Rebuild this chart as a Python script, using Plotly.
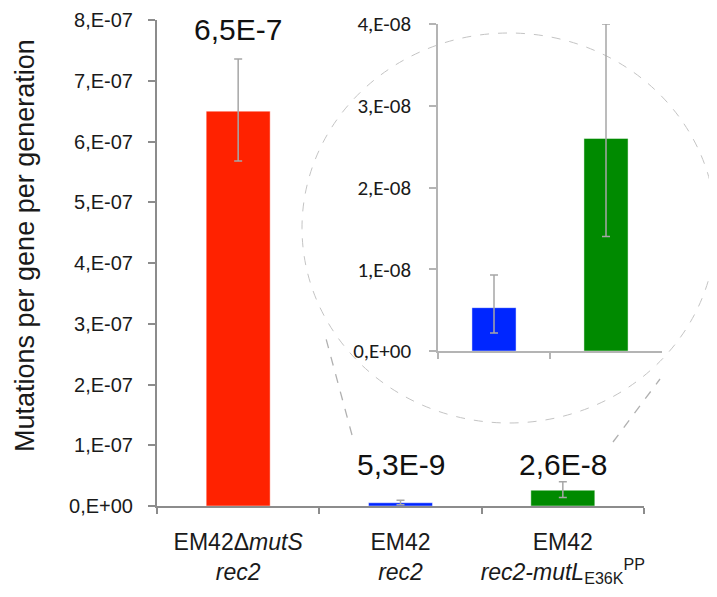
import plotly.graph_objects as go

# ---- data ----
strains = ["EM42ΔmutS rec2", "EM42 rec2", "EM42 rec2-mutL E36K PP"]
tick_labels = [
    "EM42Δ<i>mutS</i><br><i>rec2</i>",
    "EM42<br><i>rec2</i>",
    "EM42<br><i>rec2-mutL</i><sub>E36K</sub><sup>PP</sup>",
]
rates = [6.5e-7, 5.3e-9, 2.6e-8]
err_plus = [0.86e-7, 0.40e-8, 1.4e-8]
err_minus = [0.82e-7, 0.31e-8, 1.2e-8]
value_labels = ["6,5E-7", "5,3E-9", "2,6E-8"]
colors = ["#ff2200", "#0026ff", "#008a00"]

main_ticks = [0, 1e-7, 2e-7, 3e-7, 4e-7, 5e-7, 6e-7, 7e-7, 8e-7]
main_tick_text = ["0,E+00", "1,E-07", "2,E-07", "3,E-07", "4,E-07",
                  "5,E-07", "6,E-07", "7,E-07", "8,E-07"]
inset_ticks = [0, 1e-8, 2e-8, 3e-8, 4e-8]
inset_tick_text = ["0,E+00", "1,E-08", "2,E-08", "3,E-08", "4,E-08"]
y_title = "Mutations per gene per generation"

SANS = "Liberation Sans, Arial, sans-serif"
CALIBRI = "Carlito, Calibri, Lato, sans-serif"
err_col = "#a6a6a6"

# layout geometry (page has an 8px body margin)
W, H = 717, 597
L, T, R, B = 149, 12, 0, 99
PW, PH = W - L - R, H - T - B


def px(sx):  # screen x -> paper x
    return (sx - 8 - L) / PW


def py(sy):  # screen y -> paper y
    return (H - B - (sy - 8)) / PH


fig = go.Figure()

fig.add_trace(go.Bar(
    x=strains, y=rates,
    marker=dict(color=colors, line=dict(color="rgba(255,255,255,0.45)", width=1)),
    error_y=dict(type="data", symmetric=False, array=err_plus, arrayminus=err_minus,
                 color=err_col, thickness=1.5, width=4),
    xaxis="x", yaxis="y", showlegend=False,
))

fig.add_trace(go.Bar(
    x=strains[1:], y=rates[1:],
    marker=dict(color=colors[1:], line=dict(color="rgba(255,255,255,0.45)", width=1)),
    error_y=dict(type="data", symmetric=False, array=err_plus[1:], arrayminus=err_minus[1:],
                 color=err_col, thickness=1.5, width=4),
    xaxis="x2", yaxis="y2", showlegend=False,
))

label_y = [7.84e-7, 0.675e-7, 0.675e-7]
for s, t, yy in zip(strains, value_labels, label_y):
    fig.add_annotation(x=s, y=yy, xref="x", yref="y", text=t, showarrow=False,
                       font=dict(family=SANS, size=30, color="#111111"),
                       yanchor="middle")

fig.add_annotation(x=px(25), y=py(246), xref="paper", yref="paper", text=y_title,
                   textangle=-90, showarrow=False, xanchor="center", yanchor="middle",
                   font=dict(family=SANS, size=27, color="#1a1a1a"))

# decorative zoom ellipse & connector lines
fig.add_shape(type="circle", xref="paper", yref="paper",
              x0=px(302), x1=px(716), y0=py(423), y1=py(33),
              line=dict(color="#c4c4c4", width=1, dash="dash"), layer="below")
fig.add_shape(type="line", xref="paper", yref="paper",
              x0=px(352), y0=py(435), x1=px(325), y1=py(335),
              line=dict(color="#b0b0b0", width=1.3, dash="dash"))
fig.add_shape(type="line", xref="paper", yref="paper",
              x0=px(613), y0=py(442), x1=px(660), y1=py(379),
              line=dict(color="#b0b0b0", width=1.3, dash="dash"))

fig.update_layout(
    width=W, height=H,
    margin=dict(l=L, r=R, t=T, b=B, autoexpand=False),
    paper_bgcolor="white", plot_bgcolor="rgba(0,0,0,0)",
    bargap=0.606,
    font=dict(family=SANS, color="#1a1a1a"),
    xaxis=dict(domain=[0, px(644)], type="category", automargin=False,
               tickvals=strains, ticktext=tick_labels, tickangle=0,
               tickfont=dict(family=SANS, size=23, color="#1a1a1a"),
               showline=True, linecolor="#8c8c8c", linewidth=2,
               ticks="outside", ticklen=6, tickcolor="#8c8c8c", tickwidth=2,
               tickson="boundaries", ticklabelstandoff=14,
               showgrid=False, zeroline=False, range=[-0.5, 2.5], fixedrange=True),
    yaxis=dict(domain=[0, 1], range=[0, 8e-7], automargin=False,
               tickvals=main_ticks, ticktext=main_tick_text,
               tickfont=dict(family=SANS, size=20, color="#1a1a1a"),
               showline=True, linecolor="#8c8c8c", linewidth=2,
               ticks="outside", ticklen=7, tickcolor="#8c8c8c", tickwidth=2,
               ticklabelstandoff=11,
               showgrid=False, zeroline=False),
    xaxis2=dict(domain=[px(438), px(662)], anchor="y2", type="category",
                tickvals=strains[1:], showticklabels=False, automargin=False,
                showline=True, linecolor="#b4b4b4", linewidth=1.5,
                ticks="outside", ticklen=6, tickcolor="#b4b4b4", tickwidth=1.5,
                tickson="boundaries", showgrid=False, zeroline=False,
                range=[-0.5, 1.5]),
    yaxis2=dict(domain=[py(351), py(24)], anchor="x2", range=[0, 4e-8], automargin=False,
                tickvals=inset_ticks, ticktext=inset_tick_text,
                tickfont=dict(family=CALIBRI, size=21, color="#1a1a1a"),
                showline=True, linecolor="#b4b4b4", linewidth=1.5,
                ticks="outside", ticklen=7, tickcolor="#b4b4b4", tickwidth=1.5,
                ticklabelstandoff=14,
                showgrid=False, zeroline=False),
)

fig.write_html("out.html")
